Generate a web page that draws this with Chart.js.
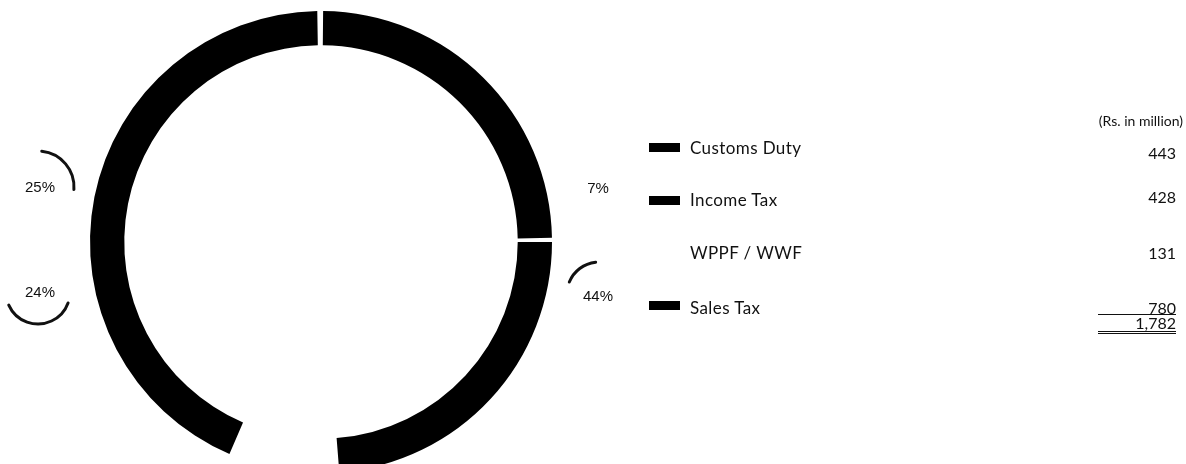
<!DOCTYPE html>
<html>
<head>
<meta charset="utf-8">
<script src="https://cdn.jsdelivr.net/npm/chart.js@4.4.0/dist/chart.umd.min.js"></script>
<style>
  body {
    margin: 0;
    width: 1186px;
    height: 464px;
    overflow: hidden;
    background: #fff;
    font-family: Lato, "Open Sans", sans-serif;
    color: #111;
  }
  #chartBox { position: absolute; left: 0; top: 0; width: 660px; height: 482px; }
  #legend { position: absolute; left: 649px; top: 0; width: 527px; height: 464px; }
  .row { position: absolute; left: 0; width: 100%; height: 20px; line-height: 20px; }
  .swatch { position: absolute; left: 0; width: 31px; height: 9px; }
  .name { position: absolute; left: 41px; font-size: 17px; letter-spacing: 0.4px; }
  .value { position: absolute; right: 0; font-size: 16px; }
  .unit { position: absolute; right: -7px; top: 111px; font-size: 14px; line-height: 20px; }
  .total {
    position: absolute; right: 0; width: 78px; text-align: right; font-size: 16px;
    line-height: 16px; border-top: 1px solid #111; border-bottom: 3px double #111;
  }
</style>
</head>
<body>
<div id="chartBox"><canvas id="taxChart"></canvas></div>
<div id="legend"></div>

<script>
const categories = ["Customs Duty", "Income Tax", "WPPF / WWF", "Sales Tax"];
const amounts = [443, 428, 131, 780];
const sliceColors = ["#000000", "#000000", "#ffffff", "#000000"];
const unitLabel = "(Rs. in million)";

// vertical placement of each legend row (px from top of page)
const nameTops = [138, 190, 243, 298];
const swatchTops = [143, 196, 248, 301];
const valueTops = [143, 187, 243, 298];
// the printed percentages are not next to their own slices in the original
const labelSpots = [
  { x: -281, y: -54, arc: { dx: -2, dy: -1, r: 36, from: -84, to: 4 } },
  { x: -281, y: 51, arc: { dx: -2, dy: -1, r: 32, from: 20, to: 156 } },
  { x: 277, y: -53, arc: null },
  { x: 277, y: 55, arc: { dx: 1, dy: -3, r: 32, from: -158, to: -96 } },
];

const total = amounts.reduce((a, b) => a + b, 0);

function buildLegend() {
  const legend = document.getElementById("legend");
  legend.innerHTML = `<div class="unit">${unitLabel}</div>`;

  categories.forEach((name, i) => {
    legend.innerHTML += `
      <span class="swatch" style="top:${swatchTops[i]}px;background:${sliceColors[i]}"></span>
      <div class="row" style="top:${nameTops[i]}px"><span class="name">${name}</span></div>
      <div class="row" style="top:${valueTops[i]}px"><span class="value">${amounts[i].toLocaleString("en-US")}</span></div>`;
  });

  legend.innerHTML += `<div class="total" style="top:${valueTops[3] + 16}px">${total.toLocaleString("en-US")}</div>`;
}

const percentLabels = {
  id: "percentLabels",
  afterDraw(chart) {
    const arc = chart.getDatasetMeta(0).data[0];
    const ctx = chart.ctx;
    ctx.save();
    ctx.fillStyle = "#111";
    ctx.strokeStyle = "#111";
    ctx.lineWidth = 3;
    ctx.lineCap = "round";
    ctx.font = "15px 'Liberation Sans', Arial, sans-serif";
    ctx.textAlign = "center";
    ctx.textBaseline = "middle";

    amounts.forEach((v, i) => {
      const spot = labelSpots[i];
      const x = arc.x + spot.x;
      const y = arc.y + spot.y;
      ctx.fillText(Math.round((v / total) * 100) + "%", x, y);

      if (spot.arc) {
        const a = spot.arc;
        ctx.beginPath();
        ctx.arc(x + a.dx, y + a.dy, a.r, (a.from * Math.PI) / 180, (a.to * Math.PI) / 180);
        ctx.stroke();
      }
    });
    ctx.restore();
  },
};

new Chart(document.getElementById("taxChart"), {
  type: "doughnut",
  data: {
    labels: categories,
    datasets: [
      {
        data: amounts,
        backgroundColor: sliceColors,
        borderWidth: 0,
        spacing: 5,
      },
    ],
  },
  options: {
    responsive: true,
    maintainAspectRatio: false,
    animation: false,
    cutout: "85%",
    layout: {
      padding: { left: 90, right: 108, top: 11, bottom: 9 },
    },
    plugins: {
      legend: { display: false },
      tooltip: { enabled: false },
    },
  },
  plugins: [percentLabels],
});

buildLegend();
</script>
</body>
</html>
